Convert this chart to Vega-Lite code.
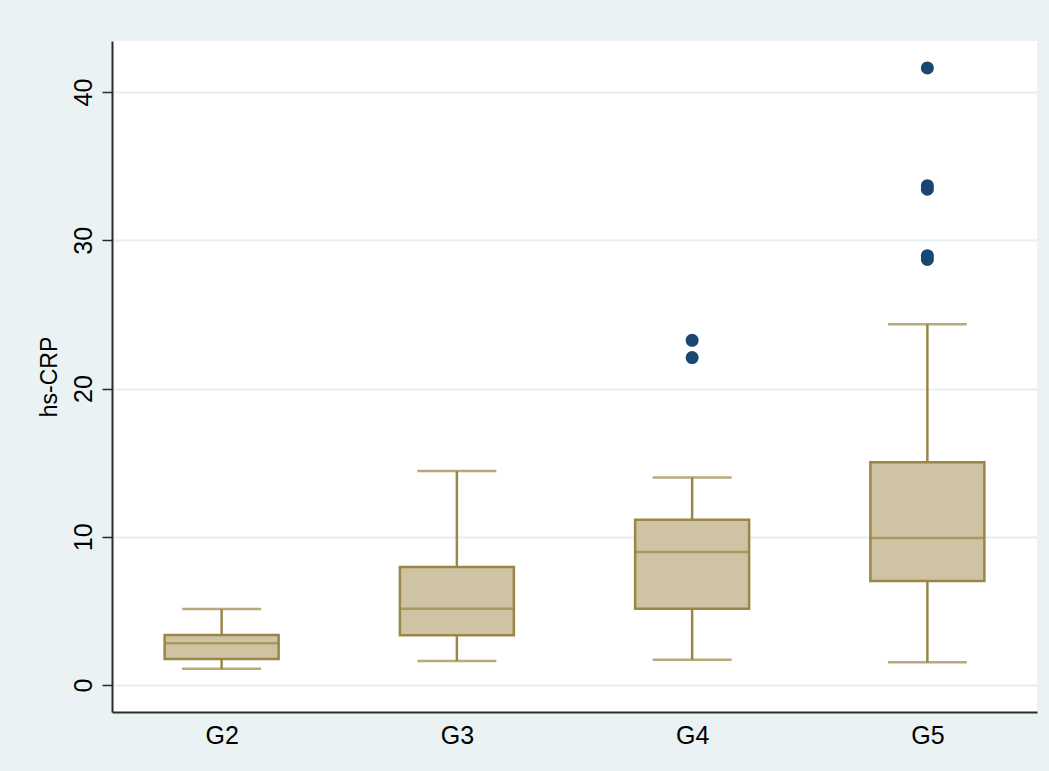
{
  "$schema": "https://vega.github.io/schema/vega-lite/v6.json",
  "width": 925,
  "height": 671,
  "autosize": {"type": "none"},
  "padding": {"left": 112, "top": 41, "right": 12, "bottom": 59},
  "background": "#EAF2F3",
  "config": {
    "view": {"fill": "white", "stroke": null},
    "font": "Liberation Sans",
    "axis": {
      "labelFont": "Liberation Sans",
      "titleFont": "Liberation Sans",
      "labelColor": "#000000",
      "titleColor": "#000000",
      "domainColor": "#2B2B2B",
      "domainWidth": 2,
      "tickColor": "#2B2B2B",
      "tickWidth": 1.5
    }
  },
  "datasets": {
    "boxes": [
      {"group": "G2", "lower": 1.10, "q1": 1.75, "median": 2.81, "q3": 3.37, "upper": 5.13},
      {"group": "G3", "lower": 1.62, "q1": 3.35, "median": 5.15, "q3": 7.96, "upper": 14.43},
      {"group": "G4", "lower": 1.71, "q1": 5.15, "median": 8.97, "q3": 11.15, "upper": 14.00},
      {"group": "G5", "lower": 1.53, "q1": 7.02, "median": 9.92, "q3": 15.02, "upper": 24.33}
    ],
    "outliers": [
      {"group": "G4", "value": 23.25},
      {"group": "G4", "value": 22.09},
      {"group": "G5", "value": 41.62},
      {"group": "G5", "value": 33.68},
      {"group": "G5", "value": 33.44},
      {"group": "G5", "value": 28.96},
      {"group": "G5", "value": 28.71}
    ]
  },
  "encoding": {
    "x": {
      "field": "group",
      "type": "nominal",
      "sort": ["G2", "G3", "G4", "G5"],
      "scale": {"type": "point", "padding": 0.466},
      "axis": {
        "title": null,
        "labelAngle": 0,
        "labelFontSize": 25,
        "labelPadding": 11,
        "ticks": false,
        "grid": false
      }
    }
  },
  "layer": [
    {
      "data": {"name": "boxes"},
      "mark": {"type": "rule", "color": "#9A8646", "strokeWidth": 2.5},
      "encoding": {
        "y": {
          "field": "lower",
          "type": "quantitative",
          "scale": {"domain": [-1.82, 43.44], "nice": false, "zero": false},
          "axis": {
            "title": "hs-CRP",
            "titleFontSize": 23,
            "titleFontWeight": "normal",
            "titlePadding": 10,
            "values": [0, 10, 20, 30, 40],
            "labelAngle": -90,
            "labelAlign": "center",
            "labelBaseline": "bottom",
            "labelFontSize": 25,
            "labelPadding": 6,
            "tickSize": 10,
            "grid": true,
            "gridColor": "#E6EEF1",
            "gridWidth": 2
          }
        },
        "y2": {"field": "upper"}
      }
    },
    {
      "data": {"name": "boxes"},
      "mark": {"type": "bar", "size": 114, "fill": "#CEC3A2", "stroke": "#9A8646", "strokeWidth": 2.5},
      "encoding": {
        "y": {"field": "q1", "type": "quantitative"},
        "y2": {"field": "q3"}
      }
    },
    {
      "data": {"name": "boxes"},
      "mark": {"type": "tick", "size": 115, "thickness": 2.5, "color": "#9A8646", "orient": "horizontal"},
      "encoding": {
        "y": {"field": "median", "type": "quantitative"}
      }
    },
    {
      "data": {"name": "boxes"},
      "mark": {"type": "tick", "size": 79, "thickness": 2.5, "color": "#9A8646", "orient": "horizontal"},
      "encoding": {
        "y": {"field": "lower", "type": "quantitative"}
      }
    },
    {
      "data": {"name": "boxes"},
      "mark": {"type": "tick", "size": 79, "thickness": 2.5, "color": "#9A8646", "orient": "horizontal"},
      "encoding": {
        "y": {"field": "upper", "type": "quantitative"}
      }
    },
    {
      "data": {"name": "outliers"},
      "mark": {"type": "point", "shape": "circle", "filled": true, "size": 170, "color": "#1A476F", "opacity": 1},
      "encoding": {
        "y": {"field": "value", "type": "quantitative"}
      }
    }
  ]
}
